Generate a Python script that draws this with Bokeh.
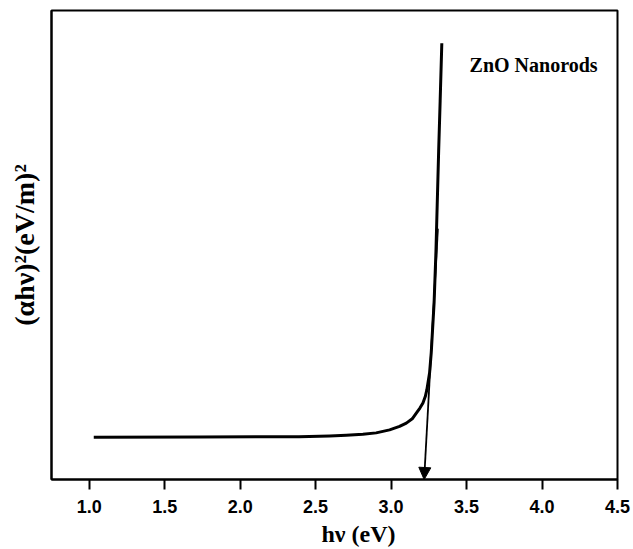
from bokeh.plotting import figure
from bokeh.models import (Arrow, NormalHead, Label, FixedTicker, Range1d,
                          PrintfTickFormatter, Title)
from bokeh.embed import file_html
from bokeh.resources import INLINE

# Tauc plot of ZnO nanorods: (alpha*h*nu)^2 against photon energy
photon_energy = [1.03, 1.73, 2.39, 2.593, 2.703, 2.813, 2.901, 2.990, 3.056,
                 3.101, 3.140, 3.167, 3.191, 3.211, 3.227, 3.237, 3.246, 3.255,
                 3.266, 3.285, 3.297, 3.306, 3.315, 3.325, 3.336]
tauc_signal = [0.0900, 0.0906, 0.0912, 0.0929, 0.0944, 0.0966, 0.0994, 0.1058,
               0.1131, 0.1202, 0.1294, 0.1416, 0.1524, 0.1631, 0.1774, 0.1916,
               0.2096, 0.2275, 0.2704, 0.3777, 0.485, 0.5923, 0.6996, 0.8069,
               0.930]

# linear extrapolation of the absorption edge down to the energy axis
edge_fit_x = [3.310, 3.219]
edge_fit_y = [0.535, 0.0]

x_ticks = [1.0, 1.5, 2.0, 2.5, 3.0, 3.5, 4.0, 4.5]

p = figure(width=633, height=549, output_backend="svg", toolbar_location=None,
           x_range=Range1d(0.75, 4.5), y_range=Range1d(0, 1),
           min_border_left=51, min_border_right=16, min_border_top=10,
           min_border_bottom=8)

p.grid.visible = False
p.background_fill_color = "white"
p.border_fill_color = "white"
p.outline_line_color = "black"
p.outline_line_width = 2

p.line(photon_energy, tauc_signal, line_color="black", line_width=3,
       line_join="round")

p.add_layout(Arrow(x_start=edge_fit_x[0], y_start=edge_fit_y[0],
                   x_end=edge_fit_x[1], y_end=edge_fit_y[1],
                   line_color="black", line_width=1.8,
                   end=NormalHead(size=12, fill_color="black",
                                  line_color="black", line_width=1)))

xa = p.xaxis[0]
xa.ticker = FixedTicker(ticks=x_ticks)
xa.formatter = PrintfTickFormatter(format="%.1f")
xa.minor_tick_line_color = None
xa.major_tick_in = 0
xa.major_tick_out = 10
xa.major_tick_line_width = 2
xa.axis_line_width = 2
xa.major_label_standoff = 10
xa.major_label_text_font = "Liberation Sans"
xa.major_label_text_font_style = "bold"
xa.major_label_text_font_size = "18px"
xa.major_label_text_color = "black"

ya = p.yaxis[0]
ya.ticker = FixedTicker(ticks=[])
ya.minor_tick_line_color = None
ya.major_tick_line_color = None
ya.axis_line_width = 2
ya.axis_label = "(αhν)²(eV/m)²"
ya.axis_label_standoff = 12
ya.axis_label_text_font = "Liberation Serif"
ya.axis_label_text_font_style = "bold"
ya.axis_label_text_font_size = "28px"
ya.axis_label_text_color = "black"

# energy-axis title, set slightly right of the frame centre
p.add_layout(Title(text="hν (eV)", align="left", offset=270, standoff=6,
                   text_font="Liberation Serif", text_font_style="bold",
                   text_font_size="24px", text_color="black"), "below")

p.add_layout(Label(x=3.52, y=0.884, text="ZnO Nanorods", text_align="left",
                   text_baseline="middle", text_font="Liberation Serif",
                   text_font_style="bold", text_font_size="20px",
                   text_color="black"))

open("out.html", "w").write(file_html(p, INLINE))
